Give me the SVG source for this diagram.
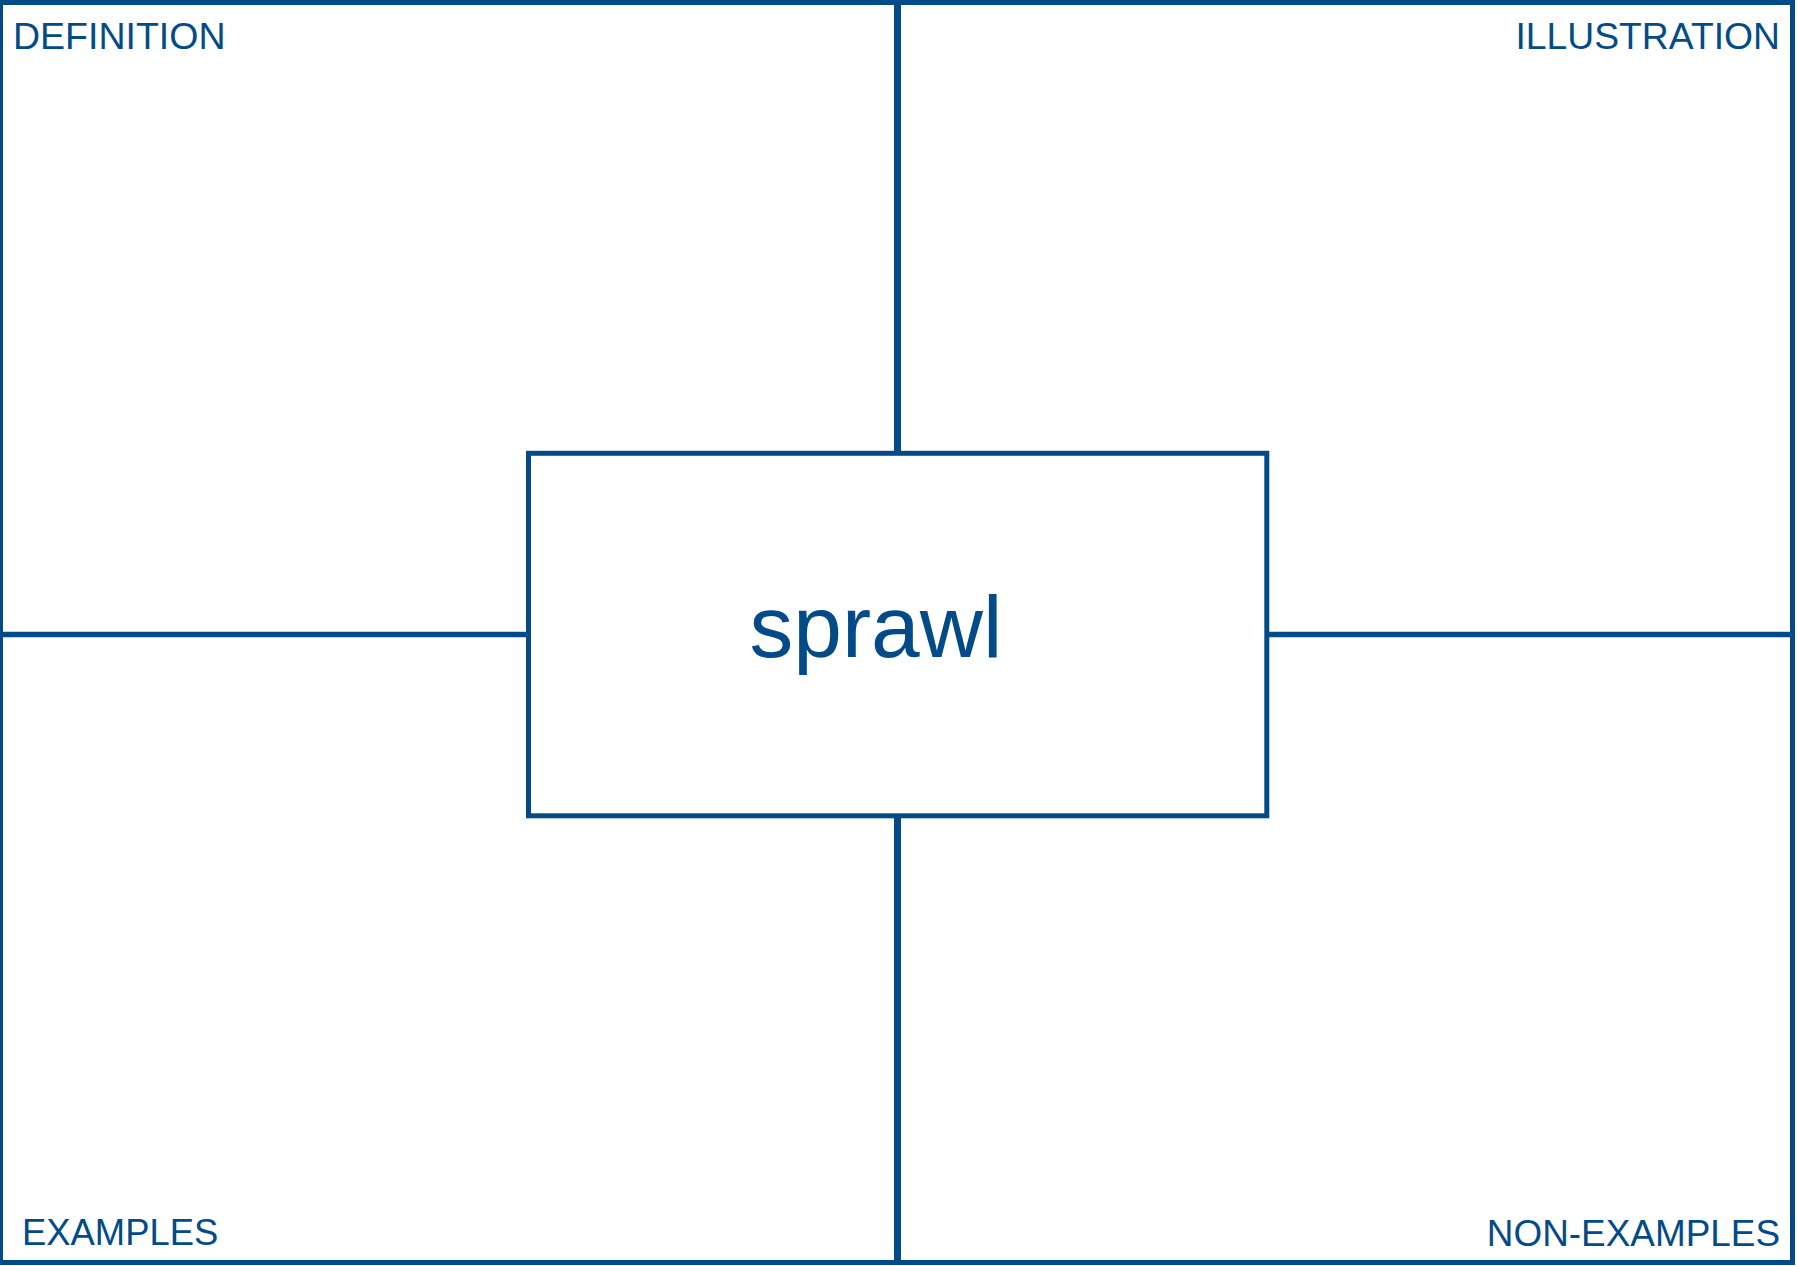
<svg xmlns="http://www.w3.org/2000/svg" width="1797" height="1266" viewBox="0 0 1797 1266">
  <style>
    .ln { stroke: #034b88; fill: none; }
    .lbl { font-family: "Liberation Sans", Arial, sans-serif; fill: #034b88; }
  </style>
  <rect width="1797" height="1266" fill="#ffffff"/>
  <g id="connectors">
    <line class="ln" x1="897.5" y1="0" x2="897.5" y2="453" stroke-width="7"/>
    <line class="ln" x1="897.5" y1="816" x2="897.5" y2="1262" stroke-width="7"/>
    <line class="ln" x1="0" y1="634.5" x2="528.5" y2="634.5" stroke-width="5.5"/>
    <line class="ln" x1="1266.8" y1="634.5" x2="1792.5" y2="634.5" stroke-width="5.5"/>
  </g>
  <g id="frame">
    <rect class="ln" x="0.5" y="2.5" width="1792" height="1260" stroke-width="5"/>
  </g>
  <g id="definition">
    <text class="lbl" x="13" y="49.3" font-size="37.5">DEFINITION</text>
  </g>
  <g id="illustration">
    <text class="lbl" x="1780" y="49.3" font-size="37.3" text-anchor="end">ILLUSTRATION</text>
  </g>
  <g id="examples">
    <text class="lbl" x="22" y="1245" font-size="36.4">EXAMPLES</text>
  </g>
  <g id="non-examples">
    <text class="lbl" x="1780" y="1246" font-size="36.9" text-anchor="end">NON-EXAMPLES</text>
  </g>
  <g id="center">
    <rect class="ln" x="528.5" y="453.3" width="738.3" height="362.5" stroke-width="5" fill="#ffffff"/>
    <text class="lbl" x="749.5" y="656.7" font-size="87.5">sprawl</text>
  </g>
</svg>
